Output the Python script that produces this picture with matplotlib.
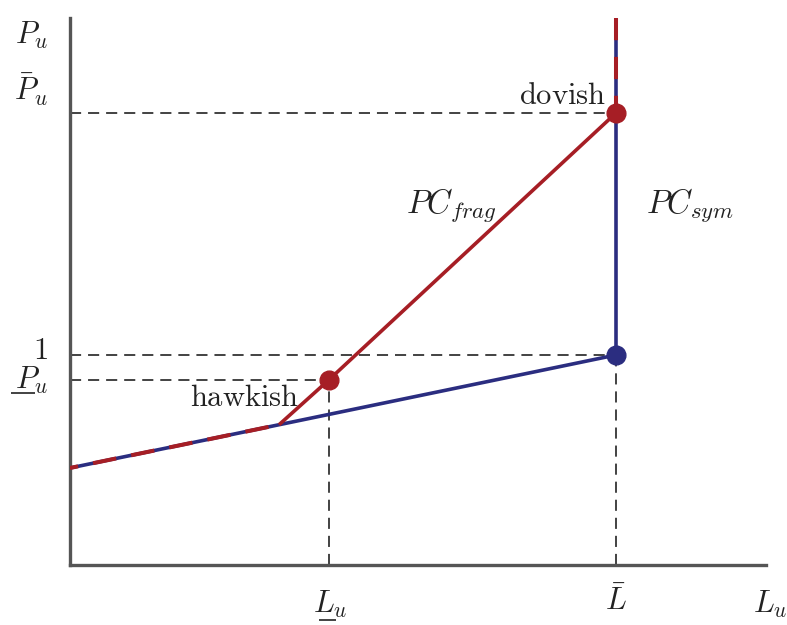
import matplotlib.pyplot as plt

plt.rcParams['mathtext.fontset'] = 'cm'
plt.rcParams['font.family'] = 'serif'
plt.rcParams['font.serif'] = ['DejaVu Serif']
plt.rcParams['lines.scale_dashes'] = False

red = '#A61E25'
blue = '#2B2D80'

# key levels (L_bar normalised to 1, P = 1 at the kink of PC_sym)
L_bar = 1.0
L_u = 0.474
P_bar = 2.152
P_low = 0.881
P_one = 1.0

# PC_sym: flat-ish segment then vertical at L_bar
sym_x = [0.0, L_bar]
sym_y = [0.462, P_one]
# PC_frag kink point where it leaves PC_sym
kink_x = 0.383
kink_y = 0.668

x_max = 1.275
y_max = 2.605

fig = plt.figure(figsize=(7.87, 6.25), dpi=100)
ax = fig.add_axes([0.0889, 0.096, 0.9733 - 0.0889, 0.9712 - 0.096])
ax.set_xlim(0, x_max)
ax.set_ylim(0, y_max)

# dashed guide lines
dash = dict(color='#222222', lw=1.2, ls=(0, (8, 5)), zorder=1)
ax.plot([0, L_bar], [P_bar, P_bar], **dash)
ax.plot([0, L_bar], [P_one, P_one], **dash)
ax.plot([0, L_u], [P_low, P_low], **dash)
ax.plot([L_u, L_u], [0, P_low], **dash)
ax.plot([L_bar, L_bar], [0, P_one], **dash)

lw = 2.6
# PC_sym
ax.plot(sym_x, sym_y, color=blue, lw=lw, zorder=2, solid_capstyle='butt')
ax.plot([L_bar, L_bar], [P_one, y_max], color=blue, lw=lw, zorder=2, solid_capstyle='butt')

# PC_frag: shared parts drawn as red dashes over blue
ax.plot([0, kink_x], [sym_y[0], kink_y], color=red, lw=lw + 0.3, ls=(11, (17, 11)),
        zorder=3, dash_capstyle='butt')
ax.plot([kink_x, L_u, L_bar], [kink_y, P_low, P_bar], color=red, lw=lw, zorder=3,
        solid_capstyle='butt')
ax.plot([L_bar, L_bar], [y_max, P_bar], color=red, lw=lw + 0.3, ls=(0, (16, 12)),
        zorder=3, dash_capstyle='butt')

# points
ax.plot([L_bar], [P_bar], 'o', color=red, ms=13.5, zorder=4)
ax.plot([L_u], [P_low], 'o', color=red, ms=13.5, zorder=4)
ax.plot([L_bar], [P_one], 'o', color=blue, ms=13.5, zorder=4)

for side in ['top', 'right']:
    ax.spines[side].set_visible(False)
for side in ['left', 'bottom']:
    ax.spines[side].set_linewidth(2.4)
    ax.spines[side].set_color('#555555')
ax.set_xticks([])
ax.set_yticks([])

fs = 22
tx = dict(fontsize=fs, color='#222222', ha='center', va='center', clip_on=False)
ax.text(-0.071, 2.52, r'$P_u$', **tx)
ax.text(-0.071, 2.26, r'$\bar{P}_u$', **tx)
ax.text(-0.055, 1.02, r'$1$', **tx)
ax.text(-0.071, 0.88, r'$P_u$', **tx)
ax.text(0.476, -0.19, r'$L_u$', **tx)
ax.text(L_bar, -0.175, r'$\bar{L}$', **tx)
ax.text(1.282, -0.19, r'$L_u$', **tx)
ax.text(0.698, 1.714, r'$PC_{frag}$', **dict(tx, fontsize=23.5))
ax.text(1.136, 1.714, r'$PC_{sym}$', **dict(tx, fontsize=23.5))
ax.text(0.903, 2.238, r'$\mathrm{dovish}$', **tx)
ax.text(0.32, 0.80, r'$\mathrm{hawkish}$', **tx)

# underlines (mathtext has no \underline)
ul = dict(color='#222222', lw=1.2, clip_on=False, solid_capstyle='butt')
ax.plot([-0.108, -0.064], [0.819, 0.819], **ul)
ax.plot([0.456, 0.487], [-0.262, -0.262], **ul)

fig.savefig('out.png', dpi=100)
